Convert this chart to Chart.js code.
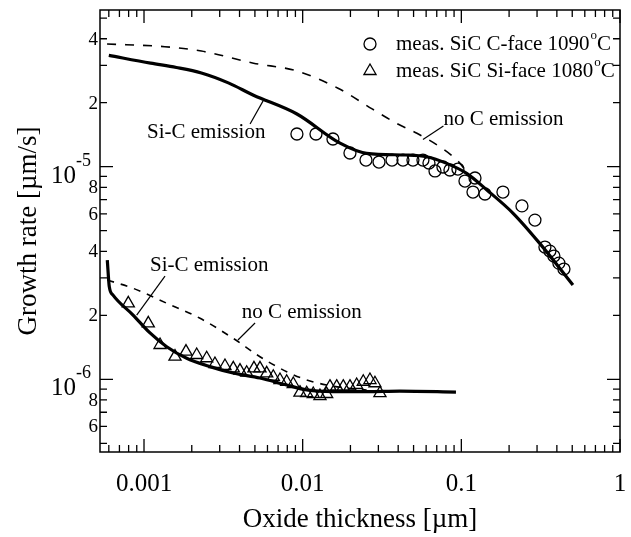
<!DOCTYPE html>
<html>
<head>
<meta charset="utf-8">
<script src="https://cdn.jsdelivr.net/npm/chart.js@4.4.0/dist/chart.umd.min.js"></script>
<style>
  html, body { margin: 0; padding: 0; background: #fff; }
</style>
</head>
<body>
<canvas id="growth" width="631" height="537"></canvas>
<script>
// axis ranges (log)
const xMin = 5.28e-4, xMax = 1;
const yMin = 4.55e-7, yMax = 5.46e-5;

// measured, SiC C-face 1090 C (circles)
const cFaceX = [0.0092, 0.01213, 0.01552, 0.01986, 0.02506, 0.03027, 0.03655, 0.04287, 0.04955, 0.05728,
  0.06251, 0.06823, 0.07656, 0.08476, 0.09517, 0.1054, 0.1219, 0.1184, 0.1409, 0.1829,
  0.2410, 0.2910, 0.3364, 0.3616, 0.3831, 0.4118, 0.4433];
const cFaceY = [1.425e-5, 1.425e-5, 1.35e-5, 1.16e-5, 1.075e-5, 1.052e-5, 1.075e-5, 1.075e-5, 1.075e-5, 1.075e-5,
  1.041e-5, 9.55e-6, 9.97e-6, 9.65e-6, 9.75e-6, 8.56e-6, 8.85e-6, 7.60e-6, 7.44e-6, 7.60e-6,
  6.54e-6, 5.61e-6, 4.19e-6, 4.01e-6, 3.80e-6, 3.52e-6, 3.30e-6];

// measured, SiC Si-face 1080 C (triangles)
const siFaceX = [7.96e-4, 1.064e-3, 1.262e-3, 1.568e-3, 1.839e-3, 2.148e-3, 2.483e-3, 2.80e-3, 3.238e-3, 3.653e-3,
  4.027e-3, 4.437e-3, 4.932e-3, 5.382e-3, 5.931e-3, 6.528e-3, 7.194e-3, 7.928e-3, 8.725e-3, 9.616e-3,
  0.0106, 0.01166, 0.01285, 0.01416, 0.01486, 0.01638, 0.01802, 0.01986, 0.02189, 0.02409,
  0.02655, 0.02855, 0.03069];
const siFaceY = [2.277e-6, 1.834e-6, 1.450e-6, 1.278e-6, 1.349e-6, 1.301e-6, 1.256e-6, 1.180e-6, 1.155e-6, 1.126e-6,
  1.098e-6, 1.074e-6, 1.126e-6, 1.126e-6, 1.067e-6, 1.028e-6, 9.92e-7, 9.74e-7, 9.50e-7, 8.65e-7,
  8.60e-7, 8.53e-7, 8.34e-7, 8.53e-7, 9.23e-7, 9.23e-7, 9.23e-7, 9.23e-7, 9.40e-7, 9.74e-7,
  9.92e-7, 9.58e-7, 8.60e-7];

// model, C-face, Si-C emission (solid)
const cFitX = [0.0006, 0.0011, 0.0016, 0.0023, 0.0034, 0.0049, 0.0092, 0.0172, 0.0253, 0.0452, 0.0604, 0.0808,
  0.108, 0.145, 0.212, 0.312, 0.505];
const cFitY = [3.34e-5, 3.07e-5, 2.93e-5, 2.76e-5, 2.48e-5, 2.17e-5, 1.77e-5, 1.29e-5, 1.156e-5, 1.135e-5, 1.114e-5, 1.037e-5,
  9.31e-6, 7.77e-6, 6.04e-6, 4.36e-6, 2.78e-6];

// model, C-face, no C emission (dashed)
const cNoCX = [0.000585, 0.00135, 0.0023, 0.0049, 0.0092, 0.0167, 0.0274, 0.0391, 0.0525, 0.0731,
  0.0889, 0.100, 0.108];
const cNoCY = [3.78e-5, 3.67e-5, 3.50e-5, 3.07e-5, 2.82e-5, 2.34e-5, 1.87e-5, 1.60e-5, 1.436e-5, 1.242e-5,
  1.114e-5, 1.02e-5, 9.4e-6];

// model, Si-face, Si-C emission (solid)
const siFitX = [0.000587, 0.000604, 0.000638, 0.000853, 0.001091, 0.00139, 0.001858, 0.002606, 0.00364, 0.00538,
  0.00793, 0.0106, 0.01552, 0.0253, 0.041, 0.0925];
const siFitY = [3.64e-6, 2.73e-6, 2.49e-6, 2.006e-6, 1.652e-6, 1.423e-6, 1.256e-6, 1.147e-6, 1.071e-6, 1.014e-6,
  9.40e-7, 8.91e-7, 8.75e-7, 8.75e-7, 8.80e-7, 8.71e-7];

// model, Si-face, no C emission (dashed)
const siNoCX = [0.000587, 0.000853, 0.00139, 0.002255, 0.00364, 0.00538, 0.00793, 0.0106, 0.01416, 0.01892, 0.0253];
const siNoCY = [2.93e-6, 2.68e-6, 2.28e-6, 1.936e-6, 1.56e-6, 1.277e-6, 1.086e-6, 9.93e-7, 9.40e-7, 9.08e-7, 8.91e-7];

// tick labels
const xTickValues = [0.001, 0.01, 0.1, 1];
const xTickLabels = ["0.001", "0.01", "0.1", "1"];
const yLabelValues = [4e-5, 2e-5, 8e-6, 6e-6, 4e-6, 2e-6, 8e-7, 6e-7];
const yLabels = ["4", "2", "8", "6", "4", "2", "8", "6"];
const yPowerValues = [1e-5, 1e-6];
const yPowerExps = ["-5", "-6"];

// curve labels with leader lines (data coords)
const notes = [
  { text: "Si-C emission", x: 1.044e-3, y: 1.456e-5, from: [4.66e-3, 1.589e-5], to: [5.63e-3, 2.04e-5] },
  { text: "no C emission", x: 0.0771, y: 1.659e-5, from: [0.0771, 1.554e-5], to: [0.0573, 1.343e-5] },
  { text: "Si-C emission", x: 1.091e-3, y: 3.448e-6, from: [1.356e-3, 3.06e-6], to: [8.99e-4, 2.006e-6] },
  { text: "no C emission", x: 4.124e-3, y: 2.073e-6, from: [5.01e-3, 1.84e-6], to: [3.91e-3, 1.53e-6] }
];

const FONT = '"Liberation Serif", "Times New Roman", serif';
const pts = (xs, ys) => xs.map((v, i) => ({ x: v, y: ys[i] }));

function drawMarker(ctx, kind, x, y, r) {
  ctx.beginPath();
  if (kind === "circle") {
    ctx.arc(x, y, r, 0, Math.PI * 2);
  } else {
    ctx.moveTo(x, y - r);
    ctx.lineTo(x + r * 0.866, y + r * 0.5);
    ctx.lineTo(x - r * 0.866, y + r * 0.5);
    ctx.closePath();
  }
  ctx.stroke();
}

function superText(ctx, x, y, main, sup, tail, size) {
  // main text, small raised "o", then tail, left aligned, middle baseline
  ctx.textAlign = "left";
  ctx.textBaseline = "middle";
  ctx.font = size + "px " + FONT;
  ctx.fillText(main, x, y);
  let w = ctx.measureText(main).width;
  ctx.font = Math.round(size * 0.62) + "px " + FONT;
  ctx.fillText(sup, x + w + 1, y - size * 0.38);
  w += ctx.measureText(sup).width + 1;
  ctx.font = size + "px " + FONT;
  ctx.fillText(tail, x + w, y);
}

const framePlugin = {
  id: "frame",
  afterDatasetsDraw(chart) {
    const { ctx, chartArea: a, scales: { x, y } } = chart;
    ctx.save();
    ctx.strokeStyle = "#000";
    ctx.fillStyle = "#000";
    ctx.lineWidth = 1.5;
    ctx.strokeRect(a.left, a.top, a.right - a.left, a.bottom - a.top);

    // inward ticks on all four sides
    ctx.lineWidth = 1.3;
    ctx.beginPath();
    for (let d = -7; d <= 0; d++) {
      for (let m = 1; m < 10; m++) {
        const v = m * Math.pow(10, d);
        const len = m === 1 ? 13 : 7;
        if (v >= x.min && v <= x.max) {
          const p = x.getPixelForValue(v);
          ctx.moveTo(p, a.bottom); ctx.lineTo(p, a.bottom - len);
          ctx.moveTo(p, a.top); ctx.lineTo(p, a.top + len);
        }
        if (v >= y.min && v <= y.max) {
          const p = y.getPixelForValue(v);
          ctx.moveTo(a.left, p); ctx.lineTo(a.left + len, p);
          ctx.moveTo(a.right, p); ctx.lineTo(a.right - len, p);
        }
      }
    }
    ctx.stroke();

    // x tick labels
    ctx.font = "25px " + FONT;
    ctx.textAlign = "center";
    ctx.textBaseline = "alphabetic";
    xTickValues.forEach((v, i) => ctx.fillText(xTickLabels[i], x.getPixelForValue(v), a.bottom + 39));

    // y tick labels
    ctx.font = "19px " + FONT;
    ctx.textAlign = "right";
    ctx.textBaseline = "middle";
    yLabelValues.forEach((v, i) => ctx.fillText(yLabels[i], a.left - 2, y.getPixelForValue(v) + 1));

    yPowerValues.forEach((v, i) => {
      const p = y.getPixelForValue(v);
      ctx.textBaseline = "alphabetic";
      ctx.font = "18px " + FONT;
      ctx.fillText(yPowerExps[i], a.left - 9, p - 1);
      const w = ctx.measureText(yPowerExps[i]).width;
      ctx.font = "25px " + FONT;
      ctx.fillText("10", a.left - 9 - w, p + 16);
    });

    // curve labels
    ctx.font = "21px " + FONT;
    ctx.textAlign = "left";
    ctx.textBaseline = "middle";
    ctx.lineWidth = 1.2;
    notes.forEach(n => {
      ctx.fillText(n.text, x.getPixelForValue(n.x), y.getPixelForValue(n.y));
      ctx.beginPath();
      ctx.moveTo(x.getPixelForValue(n.from[0]), y.getPixelForValue(n.from[1]));
      ctx.lineTo(x.getPixelForValue(n.to[0]), y.getPixelForValue(n.to[1]));
      ctx.stroke();
    });

    // legend
    const lx = a.left + 270, ly = a.top + 34;
    ctx.lineWidth = 1.3;
    drawMarker(ctx, "circle", lx, ly, 6);
    drawMarker(ctx, "triangle", lx, ly + 27, 7);
    superText(ctx, lx + 26, ly, "meas. SiC C-face 1090", "o", "C", 21);
    superText(ctx, lx + 26, ly + 27, "meas. SiC Si-face 1080", "o", "C", 21);
    ctx.restore();
  }
};

new Chart(document.getElementById("growth"), {
  type: "line",
  data: {
    datasets: [
      { label: "no C emission (C-face)", data: pts(cNoCX, cNoCY), borderColor: "#000", borderWidth: 1.6,
        borderDash: [9, 9], pointRadius: 0, cubicInterpolationMode: "monotone" },
      { label: "no C emission (Si-face)", data: pts(siNoCX, siNoCY), borderColor: "#000", borderWidth: 1.6,
        borderDash: [7, 7], pointRadius: 0, cubicInterpolationMode: "monotone" },
      { label: "Si-C emission (C-face)", data: pts(cFitX, cFitY), borderColor: "#000", borderWidth: 3.2,
        pointRadius: 0, cubicInterpolationMode: "monotone" },
      { label: "Si-C emission (Si-face)", data: pts(siFitX, siFitY), borderColor: "#000", borderWidth: 3.2,
        pointRadius: 0, cubicInterpolationMode: "monotone" },
      { label: "meas. SiC C-face 1090°C", data: pts(cFaceX, cFaceY), showLine: false, pointStyle: "circle",
        pointRadius: 6, pointBorderWidth: 1.3, pointBorderColor: "#000", pointBackgroundColor: "rgba(0,0,0,0)" },
      { label: "meas. SiC Si-face 1080°C", data: pts(siFaceX, siFaceY), showLine: false, pointStyle: "triangle",
        pointRadius: 7, pointBorderWidth: 1.3, pointBorderColor: "#000", pointBackgroundColor: "rgba(0,0,0,0)" }
    ]
  },
  options: {
    responsive: false,
    animation: false,
    layout: { padding: { top: 10, right: 11, left: 0, bottom: 0 } },
    plugins: { legend: { display: false }, tooltip: { enabled: false } },
    scales: {
      x: {
        type: "logarithmic", min: xMin, max: xMax,
        grid: { display: false }, border: { display: false },
        ticks: { display: false },
        afterFit: s => { s.height = 85; },
        title: { display: true, text: "Oxide thickness [µm]", color: "#000",
          font: { family: FONT, size: 27 }, padding: { top: 0, bottom: 1 } }
      },
      y: {
        type: "logarithmic", min: yMin, max: yMax,
        grid: { display: false }, border: { display: false },
        ticks: { display: false },
        afterFit: s => { s.width = 100; },
        title: { display: true, text: "Growth rate [µm/s]", color: "#000",
          font: { family: FONT, size: 27 }, padding: { top: 13, bottom: 0 } }
      }
    }
  },
  plugins: [framePlugin]
});
</script>
</body>
</html>
